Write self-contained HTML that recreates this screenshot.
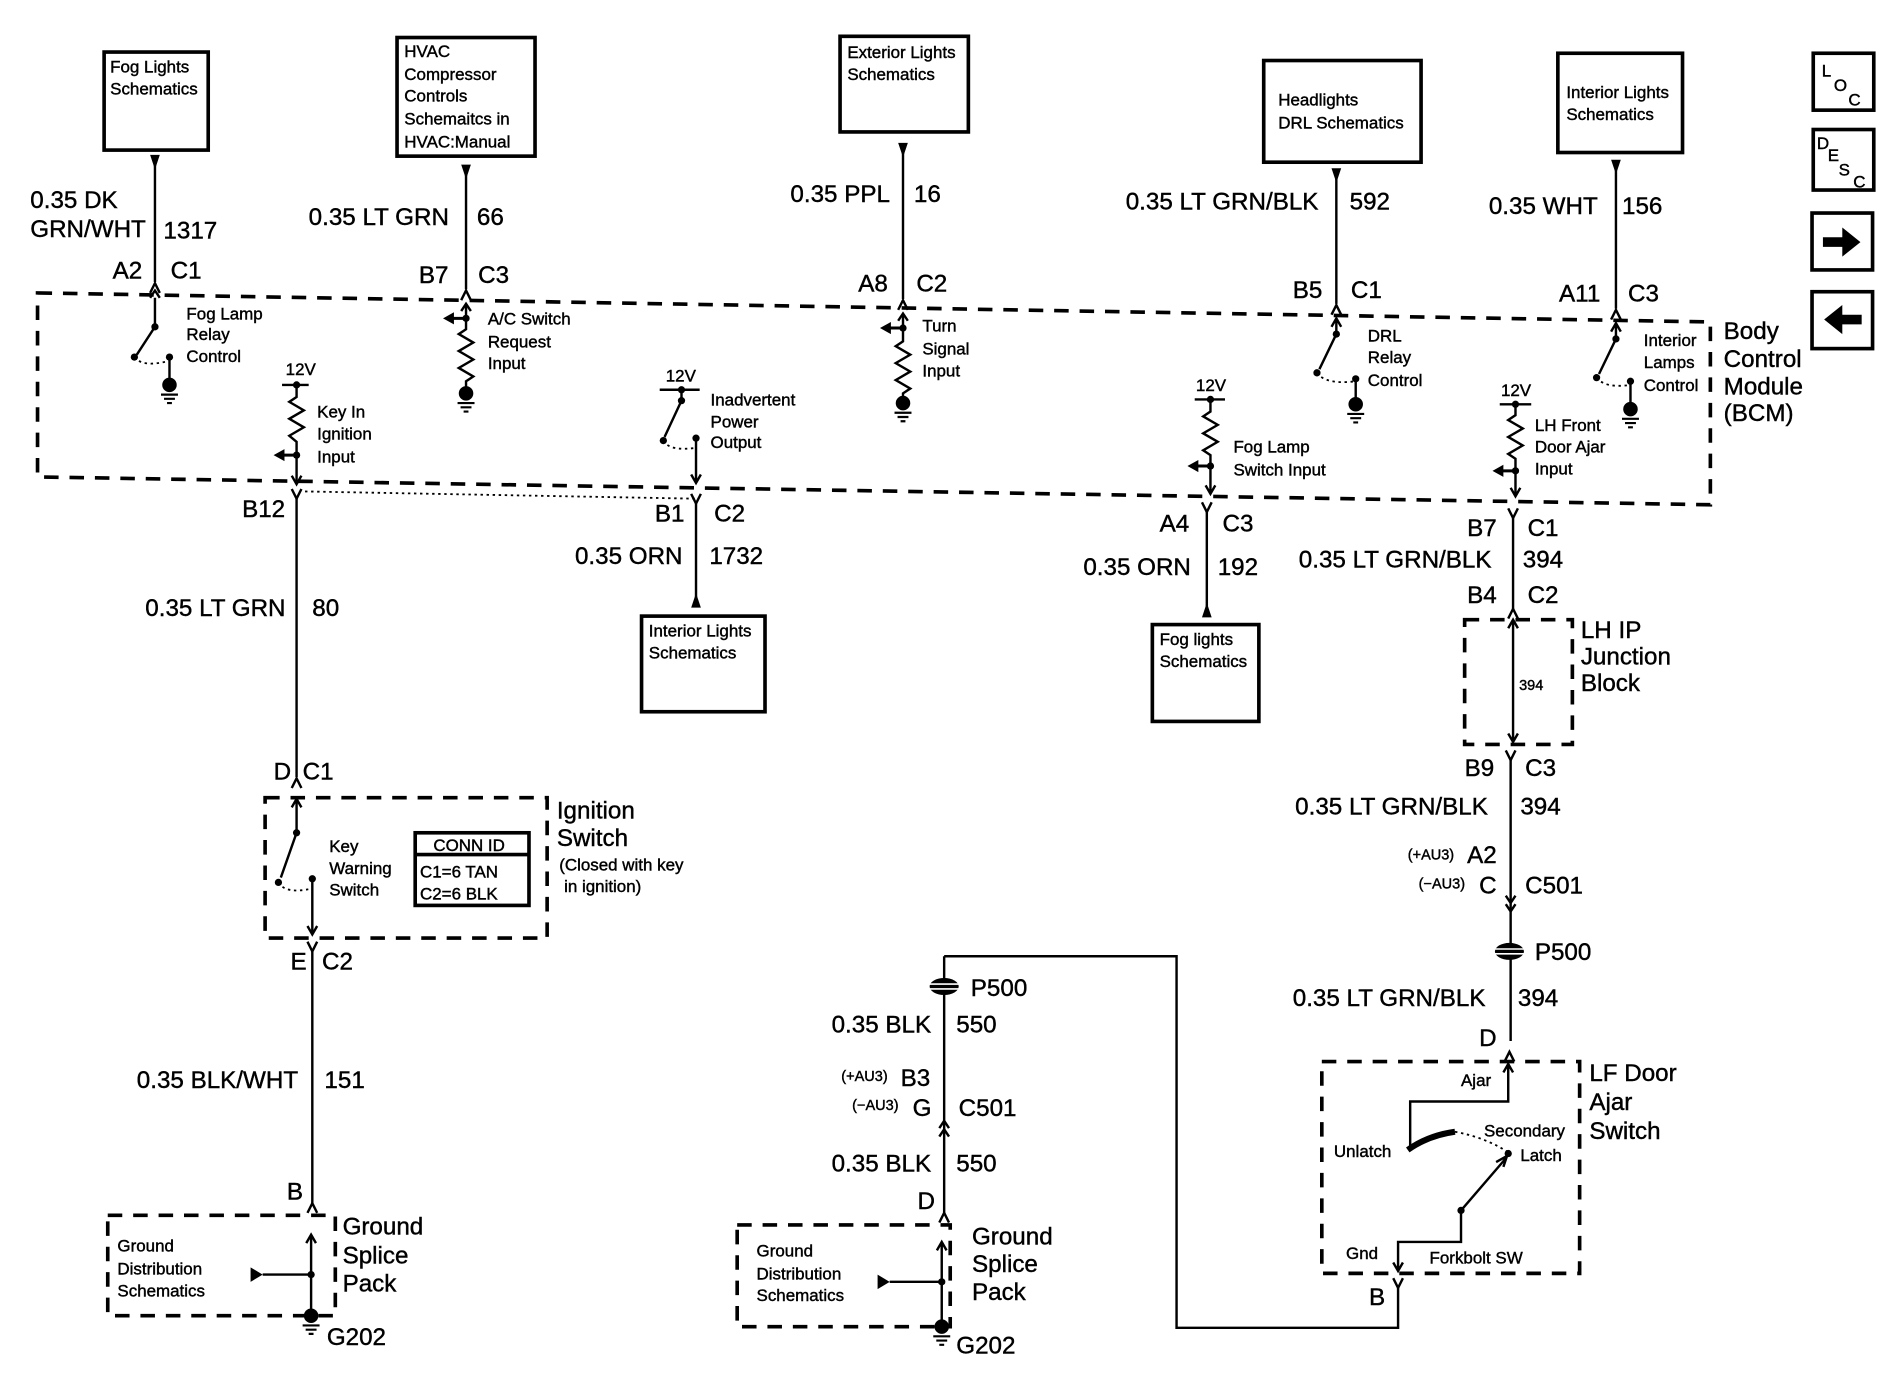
<!DOCTYPE html>
<html><head><meta charset="utf-8"><style>
html,body{margin:0;padding:0;background:#fff;}
svg{display:block;}
text{font-family:"Liberation Sans",Arial,sans-serif;fill:#000;stroke:#000;stroke-width:0.35;}
.s{font-size:14px;} .m{font-size:20px;} .xs{font-size:12px;}
.w{stroke:#000;stroke-width:2;fill:none;}
.d{stroke:#000;stroke-width:3;fill:none;stroke-dasharray:12,9;}
.dt{stroke:#000;stroke-width:1.5;fill:none;stroke-dasharray:2,3;}
.bx{stroke:#000;stroke-width:3;fill:#fff;}
</style></head><body>
<svg width="1898" height="1392" viewBox="0 0 1568 1150" xmlns="http://www.w3.org/2000/svg">
<defs>
<g id="gnd"><circle cx="0" cy="0" r="6" fill="#000"/><path d="M-7 8H7M-4.5 11.5H4.5M-2 15H2" stroke="#000" stroke-width="1.8"/></g>
<g id="up"><path d="M-4 8L0 0L4 8" stroke="#000" stroke-width="2" fill="none"/></g>
<g id="dn"><path d="M-4 -8L0 0L4 -8" stroke="#000" stroke-width="2" fill="none"/></g>
<g id="tri"><path d="M-4 0H4L0 12Z" fill="#000"/></g>
<g id="triu"><path d="M-4 0H4L0 -12Z" fill="#000"/></g>
<g id="la"><path d="M0 0H-14" stroke="#000" stroke-width="2.5"/><path d="M-10 -5L-19 0L-10 5Z" fill="#000"/><circle r="3" fill="#000"/></g>
<g id="p500"><ellipse cx="0" cy="0" rx="12" ry="7" fill="#000"/><path d="M-12 -2H12M-12 2H12" stroke="#fff" stroke-width="1.3"/></g>
</defs>
<rect x="0" y="0" width="1568" height="1150" fill="#fff"/>

<!-- top boxes -->
<rect class="bx" x="86" y="43" width="86" height="81"/>
<text class="s" x="91" y="60">Fog Lights</text><text class="s" x="91" y="78">Schematics</text>
<rect class="bx" x="328" y="31" width="114" height="98"/>
<text class="s" x="334" y="47">HVAC</text><text class="s" x="334" y="66">Compressor</text><text class="s" x="334" y="84">Controls</text><text class="s" x="334" y="103">Schemaitcs in</text><text class="s" x="334" y="122">HVAC:Manual</text>
<rect class="bx" x="694" y="30" width="106" height="79"/>
<text class="s" x="700" y="48">Exterior Lights</text><text class="s" x="700" y="66">Schematics</text>
<rect class="bx" x="1044" y="50" width="130" height="84"/>
<text class="s" x="1056" y="87">Headlights</text><text class="s" x="1056" y="106">DRL Schematics</text>
<rect class="bx" x="1287" y="44" width="103" height="82"/>
<text class="s" x="1294" y="81">Interior Lights</text><text class="s" x="1294" y="99">Schematics</text>

<!-- right icons -->
<rect class="bx" x="1498" y="44" width="50" height="47"/>
<text class="s" x="1505" y="63">L</text><text class="s" x="1515" y="75">O</text><text class="s" x="1527" y="87">C</text>
<rect class="bx" x="1498" y="107" width="50" height="50"/>
<text class="s" x="1501" y="123">D</text><text class="s" x="1510" y="133">E</text><text class="s" x="1519" y="145">S</text><text class="s" x="1531" y="155">C</text>
<rect class="bx" x="1497" y="176" width="50" height="47"/>
<path d="M1506 196H1522V188L1537 200L1522 212V204H1506Z" fill="#000"/>
<rect class="bx" x="1497" y="241" width="50" height="47"/>
<path d="M1538 260H1522V252L1507 264L1522 276V268H1538Z" fill="#000"/>

<!-- BCM box -->
<path class="d" d="M31 242L1413 266L1413 417L31 394Z"/>
<text class="m" x="1424" y="280">Body</text><text class="m" x="1424" y="303">Control</text><text class="m" x="1424" y="326">Module</text><text class="m" x="1424" y="348">(BCM)</text>

<!-- Fog lights wire -->
<use href="#tri" x="128" y="128"/>
<path class="w" d="M128 130V233"/>
<use href="#up" x="128" y="234"/>
<text class="m" x="25" y="172">0.35 DK</text><text class="m" x="25" y="196">GRN/WHT</text><text class="m" x="135" y="197">1317</text>
<text class="m" x="93" y="230">A2</text><text class="m" x="141" y="230">C1</text>
<path class="w" d="M128 246V270L113 293"/><path d="M124 246L128 240L132 246" class="w"/>
<circle cx="128" cy="270" r="3"/><circle cx="111" cy="295" r="3"/><circle cx="140" cy="295" r="3"/>
<path class="dt" d="M111 295Q118 304 140 298"/>
<path class="w" d="M140 295V314"/><use href="#gnd" x="140" y="318"/>
<text class="s" x="154" y="264">Fog Lamp</text><text class="s" x="154" y="281">Relay</text><text class="s" x="154" y="299">Control</text>

<!-- HVAC wire -->
<use href="#tri" x="385" y="136"/>
<path class="w" d="M385 138V239"/><use href="#up" x="385" y="240"/>
<text class="m" x="255" y="186">0.35 LT GRN</text><text class="m" x="394" y="186">66</text>
<text class="m" x="346" y="234">B7</text><text class="m" x="395" y="234">C3</text>
<path class="w" d="M385 252V272L379 276L391 283L379 290L391 297L379 304L391 311L385 315V325"/>
<path class="w" d="M381 257L385 251L389 257"/>
<use href="#la" x="385" y="263"/><use href="#gnd" x="385" y="325"/>
<text class="s" x="403" y="268">A/C Switch</text><text class="s" x="403" y="287">Request</text><text class="s" x="403" y="305">Input</text>

<!-- Key in ignition -->
<text class="s" x="236" y="310">12V</text>
<path class="w" d="M233 318H255M245 318V328L239 332L251 339L239 346L251 353L239 360L245 365V398"/>
<circle cx="245" cy="318" r="3"/><use href="#la" x="245" y="376"/>
<path class="w" d="M241 393L245 400L249 393"/>
<text class="s" x="262" y="345">Key In</text><text class="s" x="262" y="363">Ignition</text><text class="s" x="262" y="382">Input</text>

<!-- Inadvertent power -->
<text class="s" x="550" y="315">12V</text>
<path class="w" d="M545 322H578M563 322V331L549 361"/>
<circle cx="563" cy="322" r="3"/><circle cx="563" cy="331" r="3"/><circle cx="548" cy="364" r="3"/><circle cx="575" cy="362" r="3"/>
<path class="dt" d="M548 364Q553 373 575 370"/>
<path class="w" d="M575 362V399M571 392L575 399L579 392"/>
<text class="s" x="587" y="335">Inadvertent</text><text class="s" x="587" y="353">Power</text><text class="s" x="587" y="370">Output</text>

<!-- Exterior lights / turn -->
<use href="#tri" x="746" y="118"/>
<path class="w" d="M746 120V247"/><use href="#up" x="746" y="248"/>
<text class="m" x="653" y="167">0.35 PPL</text><text class="m" x="755" y="167">16</text>
<text class="m" x="709" y="241">A8</text><text class="m" x="757" y="241">C2</text>
<path class="w" d="M746 260V282L740 286L752 293L740 300L752 307L740 314L752 321L746 325V333"/>
<path class="w" d="M742 265L746 259L750 265"/>
<use href="#la" x="746" y="271"/><use href="#gnd" x="746" y="333"/>
<text class="s" x="762" y="274">Turn</text><text class="s" x="762" y="293">Signal</text><text class="s" x="762" y="311">Input</text>

<!-- Headlights / DRL -->
<use href="#tri" x="1104" y="139"/>
<path class="w" d="M1104 141V251"/><use href="#up" x="1104" y="252"/>
<text class="m" x="930" y="173">0.35 LT GRN/BLK</text><text class="m" x="1115" y="173">592</text>
<text class="m" x="1068" y="246">B5</text><text class="m" x="1116" y="246">C1</text>
<path class="w" d="M1104 264V276L1090 305M1100 270L1104 263L1108 270"/>
<circle cx="1104" cy="276" r="3"/><circle cx="1088" cy="308" r="3"/><circle cx="1120" cy="313" r="3"/>
<path class="dt" d="M1088 308Q1095 318 1120 315"/>
<path class="w" d="M1120 313V330"/><use href="#gnd" x="1120" y="334"/>
<text class="s" x="1130" y="282">DRL</text><text class="s" x="1130" y="300">Relay</text><text class="s" x="1130" y="319">Control</text>

<!-- Interior lamps -->
<use href="#tri" x="1335" y="132"/>
<path class="w" d="M1335 134V255"/><use href="#up" x="1335" y="256"/>
<text class="m" x="1230" y="177">0.35 WHT</text><text class="m" x="1340" y="177">156</text>
<text class="m" x="1288" y="249">A11</text><text class="m" x="1345" y="249">C3</text>
<path class="w" d="M1335 268V280L1321 309M1331 274L1335 267L1339 274"/>
<circle cx="1335" cy="280" r="3"/><circle cx="1319" cy="312" r="3"/><circle cx="1347" cy="315" r="3"/>
<path class="dt" d="M1319 312Q1326 321 1347 318"/>
<path class="w" d="M1347 315V334"/><use href="#gnd" x="1347" y="338"/>
<text class="s" x="1358" y="286">Interior</text><text class="s" x="1358" y="304">Lamps</text><text class="s" x="1358" y="323">Control</text>

<!-- Fog lamp switch input -->
<text class="s" x="988" y="323">12V</text>
<path class="w" d="M987 330H1012M1000 330V340L994 344L1006 351L994 358L1006 365L994 372L1000 376V408M996 401L1000 408L1004 401"/>
<circle cx="1000" cy="330" r="3"/><use href="#la" x="1000" y="385"/>
<text class="s" x="1019" y="374">Fog Lamp</text><text class="s" x="1019" y="393">Switch Input</text>

<!-- LH front door ajar -->
<text class="s" x="1240" y="327">12V</text>
<path class="w" d="M1239 334H1265M1252 334V343L1246 347L1258 354L1246 361L1258 368L1246 375L1252 379V410M1248 403L1252 410L1256 403"/>
<circle cx="1252" cy="334" r="3"/><use href="#la" x="1252" y="389"/>
<text class="s" x="1268" y="356">LH Front</text><text class="s" x="1268" y="374">Door Ajar</text><text class="s" x="1268" y="392">Input</text>

<!-- below BCM left -->
<use href="#dn" x="245" y="412"/>
<path class="dt" d="M252 406L575 412"/>
<text class="m" x="200" y="427">B12</text>
<path class="w" d="M245 412V642"/>
<text class="m" x="120" y="509">0.35 LT GRN</text><text class="m" x="258" y="509">80</text>
<use href="#up" x="245" y="643"/>
<text class="m" x="226" y="644">D</text><text class="m" x="250" y="644">C1</text>

<!-- B1 interior lights -->
<use href="#dn" x="575" y="416"/>
<path class="w" d="M575 416V498"/><use href="#triu" x="575" y="502"/>
<text class="m" x="541" y="431">B1</text><text class="m" x="590" y="431">C2</text>
<text class="m" x="475" y="466">0.35 ORN</text><text class="m" x="586" y="466">1732</text>
<rect class="bx" x="530" y="509" width="102" height="79"/>
<text class="s" x="536" y="526">Interior Lights</text><text class="s" x="536" y="544">Schematics</text>

<!-- A4 fog lights -->
<use href="#dn" x="997" y="423"/>
<path class="w" d="M997 423V505"/><use href="#triu" x="997" y="510"/>
<text class="m" x="958" y="439">A4</text><text class="m" x="1010" y="439">C3</text>
<text class="m" x="895" y="475">0.35 ORN</text><text class="m" x="1006" y="475">192</text>
<rect class="bx" x="952" y="516" width="88" height="80"/>
<text class="s" x="958" y="533">Fog lights</text><text class="s" x="958" y="551">Schematics</text>

<!-- B7 / LH IP junction -->
<use href="#dn" x="1250" y="428"/>
<path class="w" d="M1250 428V503"/>
<text class="m" x="1212" y="443">B7</text><text class="m" x="1262" y="443">C1</text>
<text class="m" x="1073" y="469">0.35 LT GRN/BLK</text><text class="m" x="1258" y="469">394</text>
<text class="m" x="1212" y="498">B4</text><text class="m" x="1262" y="498">C2</text>
<use href="#up" x="1250" y="503"/>
<path class="d" d="M1210 512H1299V615H1210Z"/>
<path class="w" d="M1250 513V613M1246 519L1250 512L1254 519M1246 606L1250 613L1254 606"/>
<text class="xs" x="1255" y="570">394</text>
<text class="m" x="1306" y="527">LH IP</text><text class="m" x="1306" y="549">Junction</text><text class="m" x="1306" y="571">Block</text>
<use href="#dn" x="1248" y="628"/>
<path class="w" d="M1248 628V752"/>
<text class="m" x="1210" y="641">B9</text><text class="m" x="1260" y="641">C3</text>
<text class="m" x="1070" y="673">0.35 LT GRN/BLK</text><text class="m" x="1256" y="673">394</text>
<text class="xs" x="1163" y="710">(+AU3)</text><text class="m" x="1212" y="713">A2</text>
<text class="xs" x="1172" y="734">(−AU3)</text><text class="m" x="1222" y="738">C</text>
<text class="m" x="1260" y="738">C501</text>
<path class="w" d="M1244 740L1248 746L1252 740M1244 747L1248 753L1252 747"/>
<path class="w" d="M1248 753V860"/>
<use href="#p500" x="1247" y="786"/><text class="m" x="1268" y="793">P500</text>
<text class="m" x="1068" y="831">0.35 LT GRN/BLK</text><text class="m" x="1254" y="831">394</text>
<text class="m" x="1222" y="864">D</text>
<use href="#up" x="1247" y="869"/>

<!-- LF Door Ajar Switch -->
<path class="d" d="M1092 877H1305V1052H1092Z"/>
<text class="m" x="1313" y="893">LF Door</text><text class="m" x="1313" y="917">Ajar</text><text class="m" x="1313" y="941">Switch</text>
<path class="w" d="M1246 880V910H1165V948M1242 886L1246 879L1250 886"/>
<text class="s" x="1207" y="897">Ajar</text>
<path d="M1163 950Q1180 938 1202 935" stroke="#000" stroke-width="5" fill="none"/>
<path class="dt" d="M1202 935Q1228 940 1246 952"/>
<circle cx="1246" cy="953" r="3"/>
<text class="s" x="1226" y="939">Secondary</text><text class="s" x="1256" y="959">Latch</text><text class="s" x="1102" y="956">Unlatch</text>
<path class="w" d="M1207 1000L1244 957M1236 960L1245 955L1242 964"/>
<circle cx="1207" cy="1000" r="3"/>
<path class="w" d="M1207 1000V1026H1155V1050M1151 1043L1155 1050L1159 1043"/>
<text class="s" x="1112" y="1040">Gnd</text><text class="s" x="1181" y="1044">Forkbolt SW</text>
<use href="#dn" x="1155" y="1064"/>
<text class="m" x="1131" y="1078">B</text>
<path class="w" d="M1155 1064V1097H972V790H780"/>

<!-- middle column -->
<path class="w" d="M780 790V1002"/>
<use href="#p500" x="780" y="815"/><text class="m" x="802" y="823">P500</text>
<text class="m" x="687" y="853">0.35 BLK</text><text class="m" x="790" y="853">550</text>
<text class="xs" x="695" y="893">(+AU3)</text><text class="m" x="744" y="897">B3</text>
<text class="xs" x="704" y="917">(−AU3)</text><text class="m" x="754" y="922">G</text>
<text class="m" x="792" y="922">C501</text>
<path class="w" d="M776 932L780 926L784 932M776 939L780 933L784 939"/>
<text class="m" x="687" y="968">0.35 BLK</text><text class="m" x="790" y="968">550</text>
<text class="m" x="758" y="999">D</text>
<use href="#up" x="780" y="1002"/>
<path class="d" d="M609 1012H785V1096H609Z"/>
<text class="s" x="625" y="1038">Ground</text><text class="s" x="625" y="1057">Distribution</text><text class="s" x="625" y="1075">Schematics</text>
<path d="M725 1053L735 1059L725 1065Z" fill="#000"/>
<path class="w" d="M735 1059H778M778 1027V1094M774 1033L778 1026L782 1033"/>
<circle cx="778" cy="1059" r="3"/>
<use href="#gnd" x="778" y="1096"/>
<text class="m" x="803" y="1028">Ground</text><text class="m" x="803" y="1051">Splice</text><text class="m" x="803" y="1074">Pack</text>
<text class="m" x="790" y="1118">G202</text>

<!-- Ignition switch -->
<path class="d" d="M219 659H452V775H219Z"/>
<path class="w" d="M245 661V688L232 725M241 667L245 660L249 667"/>
<circle cx="245" cy="688" r="3"/><circle cx="230" cy="729" r="3"/><circle cx="258" cy="726" r="3"/>
<path class="dt" d="M230 729Q236 739 258 734"/>
<path class="w" d="M258 726V772M254 765L258 772L262 765"/>
<text class="s" x="272" y="704">Key</text><text class="s" x="272" y="722">Warning</text><text class="s" x="272" y="740">Switch</text>
<rect x="343" y="688" width="94" height="60" fill="#fff" stroke="#000" stroke-width="3"/>
<path d="M343 706H437" stroke="#000" stroke-width="3"/>
<text class="s" x="358" y="703">CONN ID</text>
<text class="s" x="347" y="725">C1=6 TAN</text><text class="s" x="347" y="743">C2=6 BLK</text>
<text class="m" x="460" y="676">Ignition</text><text class="m" x="460" y="699">Switch</text>
<text class="s" x="462" y="719">(Closed with key</text><text class="s" x="466" y="737">in ignition)</text>
<use href="#dn" x="258" y="786"/>
<text class="m" x="240" y="801">E</text><text class="m" x="266" y="801">C2</text>
<path class="w" d="M258 786V994"/>
<text class="m" x="113" y="899">0.35 BLK/WHT</text><text class="m" x="268" y="899">151</text>
<text class="m" x="237" y="991">B</text>
<use href="#up" x="258" y="994"/>
<path class="d" d="M89 1004H277V1087H89Z"/>
<text class="s" x="97" y="1034">Ground</text><text class="s" x="97" y="1053">Distribution</text><text class="s" x="97" y="1071">Schematics</text>
<path d="M207 1047L217 1053L207 1059Z" fill="#000"/>
<path class="w" d="M217 1053H257M257 1021V1085M253 1027L257 1020L261 1027"/>
<circle cx="257" cy="1053" r="3"/>
<use href="#gnd" x="257" y="1087"/>
<text class="m" x="283" y="1020">Ground</text><text class="m" x="283" y="1044">Splice</text><text class="m" x="283" y="1067">Pack</text>
<text class="m" x="270" y="1111">G202</text>
</svg>
</body></html>
